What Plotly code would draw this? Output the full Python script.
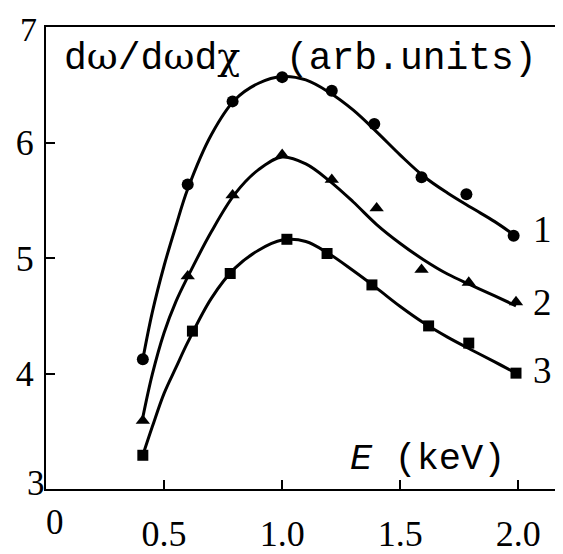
import plotly.graph_objects as go

# ---- data ----
E_circ = [0.41, 0.60, 0.79, 1.00, 1.21, 1.39, 1.59, 1.78, 1.98]
y_circ = [4.124, 5.636, 6.356, 6.566, 6.448, 6.160, 5.700, 5.552, 5.193]

E_tri = [0.41, 0.60, 0.79, 1.00, 1.21, 1.40, 1.59, 1.79, 1.99]
y_tri = [3.591, 4.843, 5.544, 5.893, 5.678, 5.431, 4.899, 4.787, 4.619]

E_sq = [0.41, 0.62, 0.78, 1.02, 1.19, 1.38, 1.62, 1.79, 1.99]
y_sq = [3.292, 4.367, 4.866, 5.162, 5.039, 4.767, 4.412, 4.263, 4.003]

# fitted curves
E_fit1 = [0.41, 0.45, 0.50, 0.55, 0.60, 0.70, 0.80, 0.90, 1.00, 1.10, 1.20, 1.30, 1.40, 1.50, 1.60, 1.70, 1.80, 1.90, 1.98]
y_fit1 = [4.124, 4.529, 4.933, 5.277, 5.597, 6.067, 6.370, 6.513, 6.571, 6.542, 6.433, 6.282, 6.092, 5.891, 5.706, 5.563, 5.437, 5.315, 5.202]

E_fit2 = [0.41, 0.45, 0.50, 0.55, 0.60, 0.70, 0.80, 0.90, 1.00, 1.10, 1.20, 1.30, 1.40, 1.50, 1.60, 1.70, 1.80, 1.90, 1.99]
y_fit2 = [3.620, 3.992, 4.353, 4.622, 4.836, 5.227, 5.555, 5.765, 5.874, 5.815, 5.668, 5.487, 5.290, 5.126, 4.983, 4.861, 4.765, 4.672, 4.586]

E_fit3 = [0.41, 0.45, 0.50, 0.55, 0.60, 0.70, 0.80, 0.90, 1.00, 1.10, 1.20, 1.30, 1.40, 1.50, 1.60, 1.70, 1.80, 1.90, 1.99]
y_fit3 = [3.292, 3.538, 3.828, 4.050, 4.269, 4.651, 4.912, 5.067, 5.155, 5.143, 5.034, 4.891, 4.739, 4.580, 4.437, 4.315, 4.206, 4.101, 4.003]

curve_labels = ["1", "2", "3"]
curve_label_y = [5.244, 4.613, 4.025]
curve_label_E = 2.104

x_tickvals = [0.5, 1.0, 1.5, 2.0]
x_ticktext = ["0.5", "1.0", "1.5", "2.0"]
y_tickvals = [4, 5, 6]
y_ticktext = ["4", "5", "6"]
corner_labels = ["0", "3", "7"]

GREEK = "DejaVu Serif"
y_title = ("d<span style=\"font-family:%s\">ω</span>/d<span style=\"font-family:%s\">ω</span>"
           "d<span style=\"font-family:%s\">χ</span>\u00a0\u00a0(arb.units)") % (GREEK, GREEK, GREEK)
x_title = "<i>E</i>\u00a0(keV)"

SERIF = "Liberation Serif, Times New Roman, serif"
MONO = "Liberation Mono, Courier New, monospace"

# page body has an 8px margin; plot area on screen: x 40..563, y 27..503
ML, MT, PW, PH = 32, 19, 523, 476
W, H = 563, 554


def px(sx):
    return (sx - 8 - ML) / PW


def py(sy):
    return (MT + PH - (sy - 8)) / PH


fig = go.Figure()

for xs, ys in [(E_fit1, y_fit1), (E_fit2, y_fit2), (E_fit3, y_fit3)]:
    fig.add_trace(go.Scatter(x=xs, y=ys, mode="lines",
                             line=dict(color="black", width=3, shape="spline", smoothing=1.0),
                             hoverinfo="skip", showlegend=False))

fig.add_trace(go.Scatter(x=E_circ, y=y_circ, mode="markers",
                         marker=dict(symbol="circle", size=12, color="black"), showlegend=False))
fig.add_trace(go.Scatter(x=E_tri, y=y_tri, mode="markers",
                         marker=dict(symbol="triangle-up", size=12.5, color="black"), showlegend=False))
fig.add_trace(go.Scatter(x=E_sq, y=y_sq, mode="markers",
                         marker=dict(symbol="square", size=11, color="black"), showlegend=False))

annotations = []
for lab, yy in zip(curve_labels, curve_label_y):
    annotations.append(dict(x=curve_label_E, y=yy, xref="x", yref="y", text=lab, showarrow=False,
                            font=dict(family=SERIF, size=37, color="black"),
                            xanchor="center", yanchor="middle"))

for lab, (sx, sy) in zip(corner_labels[:2], [(49, 538), (29.6, 497)]):
    annotations.append(dict(x=px(sx), y=py(sy), xref="paper", yref="paper",
                            text=lab, showarrow=False,
                            font=dict(family=SERIF, size=35, color="black"),
                            xanchor="center", yanchor="middle"))
# top-left "7", kept inside the figure's top edge
annotations.append(dict(x=px(22.8), y=py(8.5), xref="paper", yref="paper",
                        text=corner_labels[2], showarrow=False,
                        font=dict(family=SERIF, size=34, color="black"),
                        xanchor="center", yanchor="top"))

annotations.append(dict(x=px(56), y=py(58), xref="paper", yref="paper",
                        text=y_title, showarrow=False,
                        font=dict(family=MONO, size=38, color="black"),
                        xanchor="left", yanchor="middle"))
annotations.append(dict(x=px(346), y=py(472), xref="paper", yref="paper",
                        text=x_title, showarrow=False,
                        font=dict(family=MONO, size=37, color="black"),
                        xanchor="left", yanchor="middle"))

fig.update_layout(
    width=W, height=H,
    margin=dict(l=ML, r=W - ML - PW, t=MT, b=H - MT - PH),
    paper_bgcolor="white", plot_bgcolor="white",
    annotations=annotations,
    xaxis=dict(range=[0, 2.189], showgrid=False, zeroline=False,
               showline=True, linecolor="black", linewidth=2, mirror=True,
               ticks="inside", ticklen=9, tickwidth=1.5, tickcolor="black",
               tickvals=x_tickvals, ticktext=x_ticktext, ticklabelstandoff=12,
               tickfont=dict(family=SERIF, size=36, color="black")),
    yaxis=dict(range=[3, 7], showgrid=False, zeroline=False,
               showline=True, linecolor="black", linewidth=2, mirror=False,
               ticks="inside", ticklen=9, tickwidth=1.5, tickcolor="black",
               tickvals=y_tickvals, ticktext=y_ticktext, ticklabelstandoff=3,
               tickfont=dict(family=SERIF, size=36, color="black")),
)

fig.write_html("out.html")
